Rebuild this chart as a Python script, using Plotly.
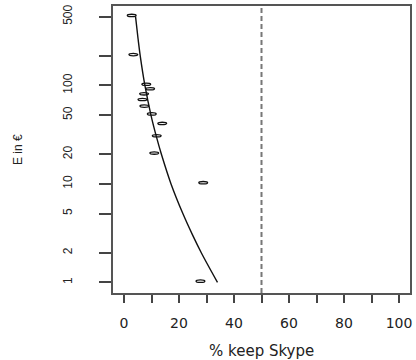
import plotly.graph_objects as go

# Observed share of people keeping Skype at each price (E in euro)
price_eur = [500, 200, 100, 90, 80, 70, 60, 50, 40, 30, 20, 10, 1]
pct_keep = [2.8, 3.4, 8.1, 9.5, 7.3, 6.7, 7.4, 10.1, 13.9, 11.9, 11.0, 28.8, 27.8]

# Fitted response curve
fit_price = [500, 300, 200, 100, 50, 30, 20, 10, 5, 3, 2, 1]
fit_pct = [4.2, 5.1, 5.9, 7.6, 9.8, 11.8, 13.6, 17.1, 21.4, 25.0, 28.1, 34.0]

threshold_pct = 50

x_tickvals = [0, 10, 20, 30, 40, 50, 60, 70, 80, 90, 100]
x_ticktext = ["0", "", "20", "", "40", "", "60", "", "80", "", "100"]
y_tickvals = [1, 2, 5, 10, 20, 50, 100, 200, 500]
y_ticktext = ["1", "2", "5", "10", "20", "50", "100", "", "500"]

fig = go.Figure()

fig.add_trace(go.Scatter(
    x=fit_pct, y=fit_price, mode="lines", line_shape="spline",
    line=dict(color="#111111", width=1.4), showlegend=False, hoverinfo="skip",
))

shapes = [dict(
    type="line", xref="x", yref="paper", x0=threshold_pct, x1=threshold_pct,
    y0=0, y1=1, line=dict(color="#777777", width=2, dash="5px,3px"),
)]

# open elliptical markers for the observations
for xv, yv in zip(pct_keep, price_eur):
    shapes.append(dict(
        type="circle", xref="x", yref="y",
        xsizemode="pixel", ysizemode="pixel",
        xanchor=xv, yanchor=yv,
        x0=-4.4, x1=4.4, y0=-2.4, y1=2.4,
        line=dict(color="#111111", width=1.3), fillcolor="rgba(0,0,0,0)",
    ))

fig.update_layout(
    width=416, height=360,
    margin=dict(l=113, r=4, t=6, b=67),
    paper_bgcolor="white", plot_bgcolor="white",
    shapes=shapes,
    showlegend=False,
    font=dict(family="Liberation Sans, Arial, sans-serif", color="#222222"),
    xaxis=dict(
        range=[-4, 104], tickmode="array", tickvals=x_tickvals, ticktext=x_ticktext,
        ticks="outside", ticklen=8, tickwidth=1.5, tickcolor="#444444",
        showgrid=False, zeroline=False, showline=True, linecolor="#555555",
        linewidth=1.5, mirror=True, ticklabelstandoff=8,
        tickfont=dict(family="DejaVu Sans", size=14, color="#222222"),
    ),
    yaxis=dict(
        type="log", range=[-0.108, 2.807], tickmode="array",
        tickvals=y_tickvals, ticktext=y_ticktext, tickangle=-90,
        ticks="outside", ticklen=12, tickwidth=1.5, tickcolor="#444444",
        showgrid=False, zeroline=False, showline=True, linecolor="#555555",
        linewidth=1.5, mirror=True, ticklabelstandoff=22,
        tickfont=dict(size=12, color="#222222"),
    ),
    annotations=[
        dict(text="% keep Skype", xref="paper", yref="paper", x=0.5, y=0,
             yanchor="middle", xanchor="center", yshift=-58, showarrow=False,
             font=dict(family="DejaVu Sans", size=15, color="#222222")),
        dict(text="E in €", xref="paper", yref="paper", x=0, y=0.5,
             xanchor="center", yanchor="middle", xshift=-95.5, textangle=-90,
             showarrow=False, font=dict(size=12, color="#222222")),
    ],
)

fig.write_html("out.html")
